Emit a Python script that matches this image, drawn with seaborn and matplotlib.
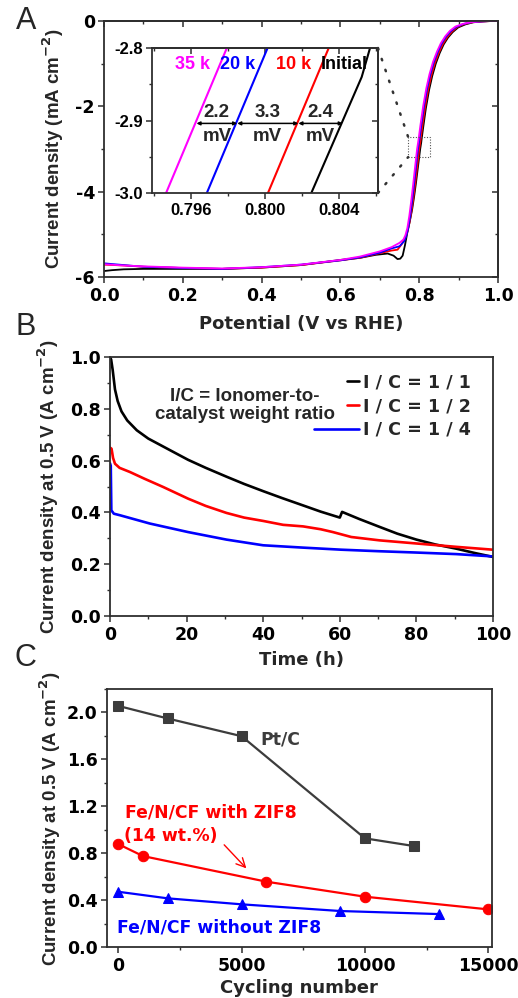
import numpy as np
import pandas as pd
import matplotlib
matplotlib.use("Agg")
import matplotlib.pyplot as plt
from matplotlib.patches import Rectangle, ConnectionPatch
from matplotlib.ticker import MultipleLocator, FormatStrFormatter
from matplotlib.legend_handler import HandlerLine2D
import seaborn as sns

# ---------------- data ----------------
# (A) ORR polarization curves after potential cycling
e_init = [0.00, 0.02, 0.05, 0.10, 0.20, 0.30, 0.40, 0.50, 0.60, 0.65, 0.69, 0.72, 0.735, 0.745,
          0.752, 0.758, 0.764, 0.770, 0.776, 0.782, 0.787, 0.792, 0.797, 0.8025, 0.80522, 0.80567,
          0.810, 0.817, 0.825, 0.833, 0.842, 0.852, 0.862, 0.873, 0.885, 0.899, 0.917, 0.937,
          0.962, 0.985, 1.00]
j_init = [-5.86, -5.84, -5.82, -5.81, -5.81, -5.81, -5.78, -5.72, -5.60, -5.55, -5.48, -5.45,
          -5.50, -5.58, -5.57, -5.50, -5.25, -4.95, -4.70, -4.42, -4.12, -3.78, -3.41, -3.00,
          -2.84, -2.80, -2.50, -2.04, -1.62, -1.29, -1.00, -0.75, -0.55, -0.39, -0.26, -0.15,
          -0.08, -0.03, -0.01, 0.00, 0.00]

e_10k = [0.00, 0.05, 0.10, 0.20, 0.30, 0.40, 0.50, 0.60, 0.65, 0.70, 0.73, 0.745, 0.755, 0.765,
         0.770, 0.775, 0.780, 0.785, 0.790, 0.795, 0.80016, 0.80344, 0.808, 0.815, 0.823, 0.831,
         0.840, 0.850, 0.860, 0.871, 0.883, 0.897, 0.915, 0.935, 0.960, 0.985, 1.00]
j_10k = [-5.71, -5.73, -5.76, -5.79, -5.81, -5.78, -5.72, -5.61, -5.55, -5.44, -5.38, -5.36,
         -5.24, -5.08, -4.94, -4.74, -4.48, -4.16, -3.80, -3.41, -3.00, -2.80, -2.47, -2.02,
         -1.60, -1.27, -0.98, -0.74, -0.54, -0.38, -0.25, -0.14, -0.07, -0.03, -0.01, 0.00, 0.00]

e_20k = [0.00, 0.05, 0.10, 0.20, 0.30, 0.40, 0.50, 0.60, 0.65, 0.70, 0.73, 0.75, 0.762, 0.767,
         0.772, 0.777, 0.782, 0.787, 0.792, 0.79686, 0.80014, 0.805, 0.812, 0.820, 0.828, 0.837,
         0.847, 0.857, 0.868, 0.880, 0.894, 0.912, 0.932, 0.957, 0.980, 1.00]
j_20k = [-5.68, -5.72, -5.76, -5.79, -5.81, -5.77, -5.71, -5.61, -5.54, -5.43, -5.33, -5.28,
         -5.16, -5.04, -4.86, -4.58, -4.22, -3.82, -3.40, -3.00, -2.80, -2.46, -2.01, -1.59,
         -1.26, -0.97, -0.73, -0.53, -0.37, -0.24, -0.14, -0.07, -0.03, -0.01, 0.00, 0.00]

e_35k = [0.00, 0.05, 0.10, 0.20, 0.30, 0.40, 0.50, 0.60, 0.65, 0.70, 0.73, 0.75, 0.76, 0.765,
         0.770, 0.775, 0.780, 0.785, 0.790, 0.79466, 0.79794, 0.803, 0.810, 0.818, 0.826, 0.835,
         0.845, 0.855, 0.866, 0.878, 0.892, 0.910, 0.930, 0.955, 0.980, 1.00]
j_35k = [-5.70, -5.73, -5.75, -5.78, -5.80, -5.77, -5.71, -5.60, -5.52, -5.40, -5.30, -5.20,
         -5.12, -5.02, -4.85, -4.56, -4.20, -3.80, -3.38, -3.00, -2.80, -2.45, -2.00, -1.58,
         -1.25, -0.96, -0.72, -0.52, -0.36, -0.23, -0.13, -0.07, -0.03, -0.01, 0.00, 0.00]

# half-wave shifts between successive curves (mV), read at -2.9 mA cm-2
e_start_35k = 0.7963
shift_mv = [2.2, 3.3, 2.4]

# (B) fuel-cell durability at 0.5 V for different ionomer/catalyst ratios
t_11 = [0.0, 0.3, 0.7, 1.3, 2.0, 3.0, 4.5, 7.0, 10.0, 15.7, 20.4, 25.0, 30.4, 35.0, 40.0,
        45.0, 50.4, 55.0, 60.0, 60.6, 65.0, 70.4, 75.0, 80.0, 85.0, 90.4, 95.0, 100.0]
i_11 = [1.00, 0.99, 0.95, 0.875, 0.83, 0.79, 0.755, 0.717, 0.685, 0.64, 0.603, 0.572, 0.538,
        0.51, 0.482, 0.455, 0.427, 0.403, 0.380, 0.402, 0.375, 0.344, 0.318, 0.295, 0.276,
        0.260, 0.244, 0.228]
t_12 = [0.0, 0.4, 0.8, 1.3, 2.5, 5.2, 9.0, 13.9, 20.4, 25.0, 30.4, 35.0, 40.0, 45.2, 50.4,
        55.0, 58.2, 63.0, 70.4, 80.0, 90.4, 100.0]
i_12 = [0.65, 0.646, 0.61, 0.588, 0.572, 0.556, 0.53, 0.498, 0.453, 0.425, 0.398, 0.38, 0.367,
        0.352, 0.346, 0.335, 0.324, 0.305, 0.292, 0.280, 0.267, 0.256]
t_14 = [0.0, 0.2, 0.35, 1.0, 2.6, 10.4, 20.4, 30.4, 40.0, 50.4, 60.4, 70.4, 80.0, 90.4, 100.0]
i_14 = [0.59, 0.58, 0.408, 0.395, 0.389, 0.357, 0.324, 0.295, 0.273, 0.264, 0.256, 0.250,
        0.245, 0.239, 0.230]

# (C) current density at 0.5 V versus cycling number
cyc_pt = [0, 2000, 5000, 10000, 12000]
cur_pt = [2.056, 1.949, 1.798, 0.928, 0.862]
cyc_zif = [0, 1000, 6000, 10000, 15000]
cur_zif = [0.879, 0.777, 0.559, 0.431, 0.323]
cyc_nozif = [0, 2000, 5000, 9000, 13000]
cur_nozif = [0.473, 0.417, 0.366, 0.309, 0.283]

# ---------------- style ----------------
sns.set_theme(style="ticks")
NARROW = "Liberation Sans"
plt.rcParams.update({
    "font.family": ["DejaVu Sans"],
    "font.weight": "bold",
    "axes.labelweight": "bold",
    "mathtext.default": "bf",
    "axes.unicode_minus": False,
    "axes.edgecolor": "#2e2e2e",
    "axes.linewidth": 1.3,
    "xtick.color": "#2e2e2e",
    "ytick.color": "#2e2e2e",
    "xtick.labelcolor": "black",
    "ytick.labelcolor": "black",
    "xtick.major.width": 1.1,
    "ytick.major.width": 1.1,
    "xtick.minor.width": 1.0,
    "ytick.minor.width": 1.0,
    "xtick.major.size": 4.0,
    "ytick.major.size": 4.0,
    "xtick.minor.size": 2.5,
    "ytick.minor.size": 2.5,
    "xtick.major.pad": 3.0,
    "ytick.major.pad": 2.5,
    "xtick.labelsize": 12.5,
    "ytick.labelsize": 12.5,
    "axes.labelsize": 13,
})

W, H = 518, 998
fig = plt.figure(figsize=(W / 100, H / 100), dpi=100)


def frame(left, top, right, bottom):
    return [left / W, 1 - bottom / H, (right - left) / W, (bottom - top) / H]


def mirror_ticks(ax, xmaj, xmin, ymaj, ymin):
    top = ax.secondary_xaxis("top")
    top.xaxis.set_major_locator(MultipleLocator(xmaj))
    top.xaxis.set_minor_locator(MultipleLocator(xmin))
    top.tick_params(which="both", direction="in", labeltop=False)
    right = ax.secondary_yaxis("right")
    right.yaxis.set_major_locator(MultipleLocator(ymaj))
    right.yaxis.set_minor_locator(MultipleLocator(ymin))
    right.tick_params(which="both", direction="in", labelright=False)


def place_labels(ax, xlab, ylab, xy, yx):
    ax.set_xlabel(xlab)
    ax.set_ylabel(ylab, fontfamily=NARROW, fontsize=13.5)
    ax.xaxis.set_label_coords(0.5, xy)
    ax.xaxis.label.set_va("center")
    ax.yaxis.set_label_coords(yx, 0.5)
    ax.yaxis.label.set_va("center")


class ExtendedLine(HandlerLine2D):
    """Legend line handle stretched further to the left."""

    def __init__(self, extra, **kw):
        super().__init__(**kw)
        self.extra = extra

    def create_artists(self, legend, orig_handle, xdescent, ydescent, width, height,
                       fontsize, trans):
        artists = super().create_artists(legend, orig_handle, xdescent, ydescent, width,
                                         height, fontsize, trans)
        for a in artists:
            x = np.asarray(a.get_xdata(), dtype=float)
            if x.size >= 2:
                a.set_xdata(np.linspace(x[0] - self.extra, x[-1], x.size))
        return artists


# ---------------- panel A ----------------
axA = fig.add_axes(frame(104, 21, 498, 277))
curves = [(e_init, j_init, "black"), (e_10k, j_10k, "#ff0000"),
          (e_20k, j_20k, "#0000ff"), (e_35k, j_35k, "#ff00ff")]
for e, j, c in curves:
    sns.lineplot(x=e, y=j, ax=axA, color=c, lw=1.3, sort=False, estimator=None)
axA.set_xlim(0, 1.0)
axA.set_ylim(-6, 0)
axA.xaxis.set_major_locator(MultipleLocator(0.2))
axA.xaxis.set_minor_locator(MultipleLocator(0.1))
axA.yaxis.set_major_locator(MultipleLocator(2))
axA.yaxis.set_minor_locator(MultipleLocator(1))
axA.xaxis.set_major_formatter(FormatStrFormatter("%.1f"))
axA.yaxis.set_major_formatter(FormatStrFormatter("%d"))
axA.tick_params(which="both", direction="out", top=False, right=False)
mirror_ticks(axA, 0.2, 0.1, 2, 1)
place_labels(axA, "Potential (V vs RHE)", "Current density (mA cm$^{-2}$)", -0.184, -0.129)

# zoom region marker
zoom_box = Rectangle((0.772, -3.19), 0.055, 0.47, fill=False, ec="#555555",
                     lw=0.8, ls=(0, (1, 1.5)), zorder=5)
axA.add_patch(zoom_box)

# inset: crossing region around -2.9 mA cm-2
axI = fig.add_axes(frame(152, 48, 378, 193))
for e, j, c in curves:
    sns.lineplot(x=e, y=j, ax=axI, color=c, lw=1.5, sort=False, estimator=None)
axI.set_xlim(0.7939, 0.8061)
axI.set_ylim(-3.0, -2.8)
axI.xaxis.set_major_locator(MultipleLocator(0.004))
axI.xaxis.set_minor_locator(MultipleLocator(0.002))
axI.yaxis.set_major_locator(MultipleLocator(0.1))
axI.yaxis.set_minor_locator(MultipleLocator(0.05))
axI.xaxis.set_major_formatter(FormatStrFormatter("%.3f"))
axI.yaxis.set_major_formatter(FormatStrFormatter("%.1f"))
axI.tick_params(which="both", direction="out", labelsize=12, labelfontfamily=NARROW,
                top=False, right=False)
mirror_ticks(axI, 0.004, 0.002, 0.1, 0.05)
axI.set_xlabel("")
axI.set_ylabel("")

for txt, x0, c in [("35 k", 0.79515, "#ff00ff"), ("20 k", 0.79759, "#0000ff"),
                   ("10 k", 0.80057, "#ff0000"), ("Initial", 0.80301, "black")]:
    axI.text(x0, -2.823, txt, color=c, fontsize=13, fontfamily=NARROW, ha="left", va="center")

e_cross = [e_start_35k]
for d in shift_mv:
    e_cross.append(e_cross[-1] + d / 1000.0)
for k, d in enumerate(shift_mv):
    a, b = e_cross[k], e_cross[k + 1]
    axI.annotate("", xy=(b, -2.904), xytext=(a, -2.904),
                 arrowprops=dict(arrowstyle="<|-|>", color="black", lw=1.1,
                                 mutation_scale=5, shrinkA=0, shrinkB=0))
    mid = (a + b) / 2
    axI.text(mid, -2.889, f"{d:.1f}", fontsize=13.5, fontfamily=NARROW, ha="center", va="center")
    axI.text(mid, -2.922, "mV", fontsize=13.5, fontfamily=NARROW, ha="center", va="center")

for corner_y, box_y in [(1, -2.72), (0, -3.19)]:
    con = ConnectionPatch(xyA=(1, corner_y), coordsA=axI.transAxes,
                          xyB=(0.772, box_y), coordsB=axA.transData,
                          color="#333333", lw=1.8, ls=(0, (0.6, 4.0)))
    fig.add_artist(con)

# ---------------- panel B ----------------
axB = fig.add_axes(frame(110, 357, 493, 616))
sns.lineplot(x=t_11, y=i_11, ax=axB, color="black", lw=1.9, sort=False, estimator=None,
             label="I / C = 1 / 1")
sns.lineplot(x=t_12, y=i_12, ax=axB, color="#ff0000", lw=1.9, sort=False, estimator=None,
             label="I / C = 1 / 2")
sns.lineplot(x=t_14, y=i_14, ax=axB, color="#0000ff", lw=1.9, sort=False, estimator=None,
             label="I / C = 1 / 4")
axB.set_xlim(0, 100)
axB.set_ylim(0, 1.0)
axB.xaxis.set_major_locator(MultipleLocator(20))
axB.xaxis.set_minor_locator(MultipleLocator(10))
axB.yaxis.set_major_locator(MultipleLocator(0.2))
axB.yaxis.set_minor_locator(MultipleLocator(0.1))
axB.yaxis.set_major_formatter(FormatStrFormatter("%.1f"))
axB.tick_params(which="both", direction="out", top=False, right=False)
place_labels(axB, "Time (h)", "Current density at 0.5 V (A cm$^{-2}$)", -0.171, -0.162)
handles, labels = axB.get_legend_handles_labels()
axB.legend(handles, labels, loc="upper left", bbox_to_anchor=(0.619, 0.937), frameon=False,
           fontsize=12.6, handlelength=0.7, handletextpad=0.2, labelspacing=0.33,
           borderaxespad=0, borderpad=0, handler_map={handles[2]: ExtendedLine(24)})
axB.text(0.352, 0.812, "I/C = Ionomer-to-\ncatalyst weight ratio", transform=axB.transAxes,
         fontsize=13.5, fontfamily=NARROW, ha="center", va="center", linespacing=1.1)

# ---------------- panel C ----------------
axC = fig.add_axes(frame(106.7, 689, 491.7, 947.3))
sns.lineplot(x=cyc_pt, y=cur_pt, ax=axC, color="#3c3c3c", lw=1.6, marker="s", markersize=7,
             markeredgecolor="#3c3c3c", sort=False, estimator=None)
sns.lineplot(x=cyc_zif, y=cur_zif, ax=axC, color="#ff0000", lw=1.6, marker="o", markersize=7.5,
             markeredgecolor="#ff0000", sort=False, estimator=None)
sns.lineplot(x=cyc_nozif, y=cur_nozif, ax=axC, color="#0000ff", lw=1.6, marker="^",
             markersize=7.5, markeredgecolor="#0000ff", sort=False, estimator=None)
axC.set_xlim(-470, 15140)
axC.set_ylim(0, 2.2)
axC.xaxis.set_major_locator(MultipleLocator(5000))
axC.xaxis.set_minor_locator(MultipleLocator(2500))
axC.yaxis.set_major_locator(MultipleLocator(0.4))
axC.yaxis.set_minor_locator(MultipleLocator(0.2))
axC.yaxis.set_major_formatter(FormatStrFormatter("%.1f"))
axC.tick_params(which="both", direction="out", top=False, right=False)
place_labels(axC, "Cycling number", "Current density at 0.5 V (A cm$^{-2}$)", -0.158, -0.147)
axC.text(5750, 1.77, "Pt/C", color="#3c3c3c", fontsize=12.4, ha="left", va="center")
axC.text(280, 1.15, "Fe/N/CF with ZIF8", color="#ff0000", fontsize=12.4,
         ha="left", va="center")
axC.text(250, 0.95, "(14 wt.%)", color="#ff0000", fontsize=12.4, ha="left", va="center")
axC.text(-40, 0.17, "Fe/N/CF without ZIF8", color="#0000ff", fontsize=12.4,
         ha="left", va="center")
axC.annotate("", xy=(5270, 0.655), xytext=(4216, 0.89),
             arrowprops=dict(arrowstyle="->", color="#ff0000", lw=1.0, mutation_scale=16))

# panel letters
for letter, x, y in [("A", 26, 21), ("B", 26, 327), ("C", 25, 658)]:
    fig.text(x / W, 1 - y / H, letter, fontsize=22, fontweight="normal", fontfamily=NARROW,
             ha="center", va="center")

fig.savefig("out.png", dpi=100)
